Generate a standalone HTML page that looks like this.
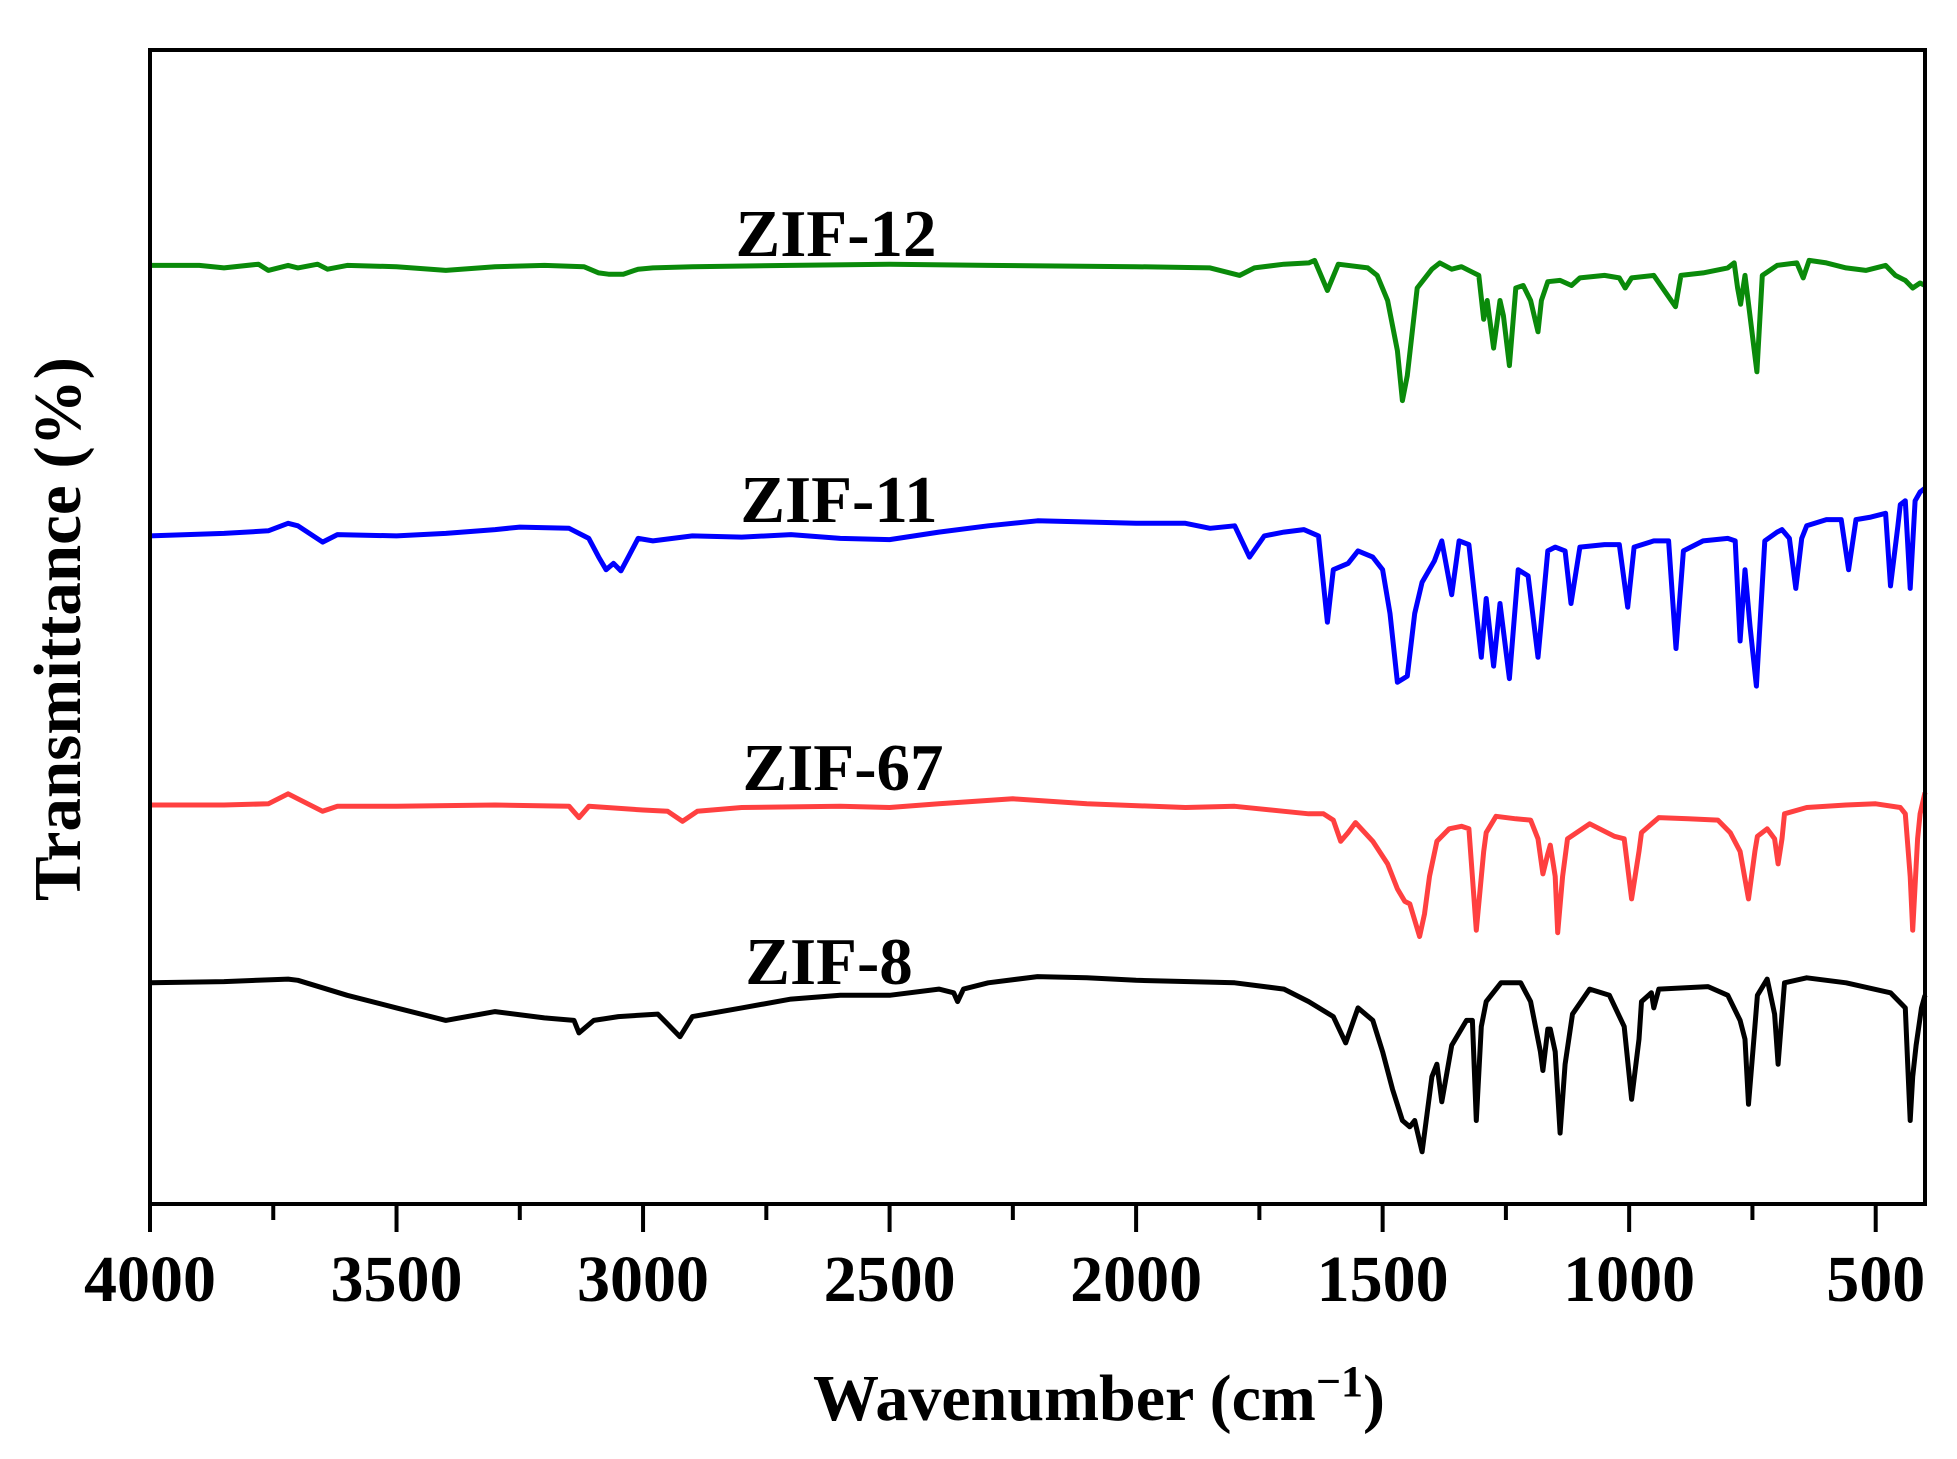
<!DOCTYPE html>
<html><head><meta charset="utf-8">
<style>
html,body{margin:0;padding:0;background:#fff;}
svg{display:block;font-family:"Liberation Serif","Times New Roman",serif;}
</style></head>
<body>
<svg id="chart" width="1957" height="1459" viewBox="0 0 1957 1459" xmlns="http://www.w3.org/2000/svg">
<g id="series"></g>
<g id="axes"></g>
<text transform="translate(80,629) rotate(-90)" text-anchor="middle" font-size="67" font-weight="bold">Transmittance (%)</text>
<text x="1099" y="1420" text-anchor="middle" font-size="66" font-weight="bold">Wavenumber (cm<tspan baseline-shift="super" font-size="44">−1</tspan>)</text>
</svg>
<script>
const xTicks=[4000,3500,3000,2500,2000,1500,1000,500];
const xMinor=[3750,3250,2750,2250,1750,1250,750];
const names=["ZIF-12","ZIF-11","ZIF-67","ZIF-8"];
const colors=["#0a8a0a","#0000ff","#ff4040","#000000"];
const labelPos=[[836,232],[839,498],[843,766],[829,960]];
// wavenumbers (cm-1) and transmittance (arbitrary offset units)
const zif12W=[4000,3900,3850,3780,3760,3720,3700,3660,3640,3600,3500,3400,3300,3200,3120,3090,3070,3040,3010,2980,2900,2700,2500,2300,2000,1850,1790,1760,1700,1650,1638,1612,1590,1530,1511,1490,1470,1460,1450,1430,1400,1384,1360,1340,1320,1305,1295,1288,1275,1262,1255,1243,1230,1215,1200,1185,1178,1165,1140,1117,1100,1050,1020,1008,995,950,906,895,850,800,787,780,774,765,741,730,700,660,647,635,600,560,520,480,460,440,425,410,400];
const zif12T=[788,788,786,789,784,788,786,789,785,788,787,784,787,788,787,782,781,781,785,786,787,788,789,788,787,786,780,786,789,790,792,768,789,786,780,760,720,680,700,770,785,790,785,787,783,780,745,760,722,760,748,708,770,772,760,735,760,775,776,772,778,780,778,770,778,780,755,780,782,786,790,770,757,780,703,780,788,790,778,792,790,786,784,788,780,776,770,774,772];
const zif11W=[4000,3850,3760,3720,3700,3650,3620,3500,3400,3300,3250,3150,3110,3090,3075,3060,3045,3030,3010,2980,2900,2800,2700,2600,2500,2400,2300,2200,2000,1900,1850,1800,1770,1740,1700,1660,1630,1612,1600,1570,1550,1520,1500,1485,1470,1450,1435,1420,1395,1380,1360,1345,1325,1300,1290,1275,1262,1243,1225,1205,1185,1165,1150,1130,1118,1100,1050,1020,1003,990,950,920,905,890,850,800,785,775,765,755,742,725,700,690,675,662,650,640,600,570,555,540,510,480,470,455,450,440,430,420,410,400];
const zif11T=[572,574,576,582,580,567,573,572,574,577,579,578,570,555,545,550,544,555,570,568,572,571,573,570,569,575,580,584,582,582,578,580,555,572,575,577,572,503,545,550,560,555,545,510,455,460,510,535,552,568,525,568,565,475,522,468,518,458,545,540,475,560,563,560,518,563,565,565,515,563,568,568,482,560,568,570,568,488,545,500,452,568,575,577,570,530,570,580,585,585,545,585,587,590,532,580,597,600,530,600,607,610];
const zif67W=[4000,3850,3760,3720,3700,3650,3620,3500,3300,3150,3130,3110,3000,2950,2920,2890,2800,2600,2500,2400,2250,2100,1900,1800,1700,1650,1620,1600,1585,1570,1555,1520,1490,1470,1455,1445,1435,1425,1415,1405,1390,1365,1340,1325,1310,1295,1290,1270,1230,1200,1185,1175,1165,1160,1150,1145,1135,1125,1080,1030,1010,995,980,975,940,880,820,795,775,758,745,740,720,705,698,690,685,640,560,500,450,440,430,425,415,410,400];
const zif67T=[357,357,358,366,362,352,356,356,357,356,347,356,353,352,344,352,355,356,355,358,362,358,355,356,352,350,350,345,328,335,343,328,310,290,280,278,265,252,270,300,328,338,340,338,257,320,335,348,346,345,330,302,318,325,300,255,300,330,342,332,330,282,320,335,347,346,345,335,320,282,320,332,338,330,310,330,350,355,357,358,355,350,300,257,330,350,367];
const zif8W=[4000,3850,3720,3700,3650,3600,3500,3400,3300,3200,3140,3130,3100,3050,2970,2950,2925,2900,2800,2700,2600,2500,2400,2370,2362,2350,2300,2200,2100,2000,1800,1700,1650,1600,1575,1550,1520,1500,1480,1460,1445,1435,1420,1410,1400,1390,1380,1360,1330,1318,1310,1300,1290,1260,1220,1200,1180,1175,1165,1160,1150,1140,1130,1115,1080,1040,1010,995,980,975,955,950,940,840,800,775,765,758,745,740,720,705,698,690,685,640,560,470,440,435,430,425,418,407,400];
const zif8T=[215,216,218,217,211,205,195,185,192,187,185,175,185,188,190,182,172,188,195,202,205,205,210,207,200,210,215,220,219,217,215,210,200,188,167,195,185,160,130,105,100,105,80,110,140,150,120,165,185,185,105,180,200,215,215,200,160,145,178,178,160,95,150,190,210,205,180,122,170,200,207,195,210,212,205,185,170,118,180,205,218,190,150,190,215,219,215,207,195,150,105,140,165,195,205];
const W=[zif12W,zif11W,zif67W,zif8W];
const T=[zif12T,zif11T,zif67T,zif8T];
// plot area
const L=150,R=1925,TOP=50,BOT=1204;
const xS=w=>L+(4000-w)*(R-L)/3600;
const yS=t=>(1000-t)*1.252;
const NS="http://www.w3.org/2000/svg";
const sg=document.getElementById('series');
for(let s=0;s<4;s++){
  const p=document.createElementNS(NS,'path');
  let d='';
  W[s].forEach((w,i)=>{d+=(i?'L':'M')+xS(w).toFixed(1)+' '+yS(T[s][i]).toFixed(1);});
  p.setAttribute('d',d);
  p.setAttribute('fill','none');
  p.setAttribute('stroke',colors[s]);
  p.setAttribute('stroke-width','5');
  p.setAttribute('stroke-linejoin','round');
  
  
  sg.appendChild(p);
  const t=document.createElementNS(NS,'text');
  t.setAttribute('x',labelPos[s][0]);t.setAttribute('y',labelPos[s][1]+24);
  t.setAttribute('text-anchor','middle');t.setAttribute('font-size','67');t.setAttribute('font-weight','bold');
  t.textContent=names[s];
  
  
  sg.appendChild(t);
}
const ax=document.getElementById('axes');
const fr=document.createElementNS(NS,'rect');
fr.setAttribute('x',L);fr.setAttribute('y',TOP);fr.setAttribute('width',R-L);fr.setAttribute('height',BOT-TOP);
fr.setAttribute('fill','none');fr.setAttribute('stroke','#000');fr.setAttribute('stroke-width','4');


ax.appendChild(fr);
xTicks.forEach(v=>{
  const l=document.createElementNS(NS,'line');
  l.setAttribute('x1',xS(v));l.setAttribute('x2',xS(v));l.setAttribute('y1',BOT);l.setAttribute('y2',BOT+28);
  l.setAttribute('stroke','#000');l.setAttribute('stroke-width','4');
  
  
  ax.appendChild(l);
  const t=document.createElementNS(NS,'text');
  t.setAttribute('x',xS(v));t.setAttribute('y',1301);t.setAttribute('text-anchor','middle');
  t.setAttribute('font-size','66');t.setAttribute('font-weight','bold');t.textContent=v;
  
  
  ax.appendChild(t);
});
xMinor.forEach(v=>{
  const l=document.createElementNS(NS,'line');
  l.setAttribute('x1',xS(v));l.setAttribute('x2',xS(v));l.setAttribute('y1',BOT);l.setAttribute('y2',BOT+16);
  l.setAttribute('stroke','#000');l.setAttribute('stroke-width','4');
  
  
  ax.appendChild(l);
});
</script>
</body></html>
